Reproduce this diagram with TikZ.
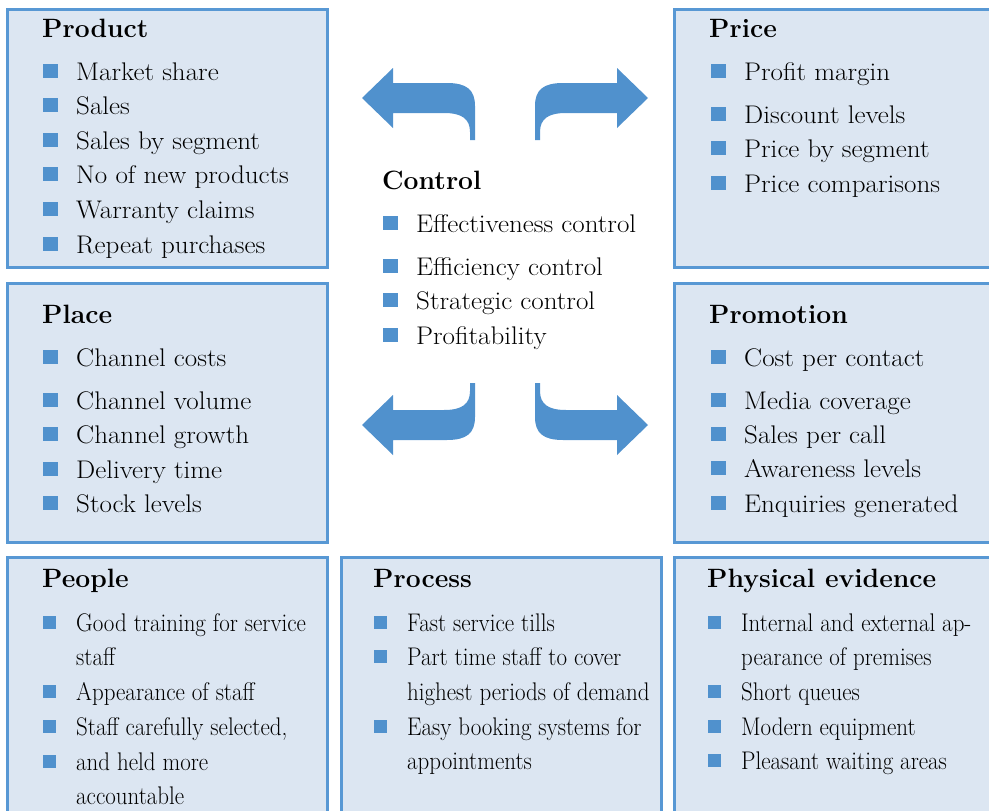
\documentclass[tikz,border=0pt]{standalone}
\usepackage{fontspec}
\usepackage{graphicx}
\definecolor{boxfill}{RGB}{220,230,242}
\definecolor{boxline}{RGB}{88,152,212}
\definecolor{bblue}{RGB}{80,145,205}
\tikzset{
  panel/.style={draw=boxline, line width=3pt, fill=boxfill},
  head/.style={anchor=base west, inner sep=0pt, font=\fontsize{26.5}{30}\selectfont\bfseries},
  txt/.style={anchor=base west, inner sep=0pt, font=\fontsize{25.5}{30}\selectfont},
  bsq/.style={fill=bblue, minimum width=15pt, minimum height=14pt, inner sep=0pt},
  bsqs/.style={fill=bblue, minimum width=13pt, minimum height=13pt, inner sep=0pt},
  barrow/.style={fill=bblue, draw=none},
}
% #1 name, #2 bullet left x, #3 baseline y, #4 text
\newcommand\bitem[4]{\node[bsq] (#1b) at (#2+7.5,#3-9.5) {}; \node[txt] (#1) at (#2+33,#3) {\scalebox{1.06}[1]{#4}};}
\newcommand\citem[4]{\node[bsqs] (#1b) at (#2+6.5,#3-9) {}; \node[txt] (#1) at (#2+33,#3) {\scalebox{0.9}[1]{#4}};}
\newcommand\ccont[4]{\node[txt] (#1) at (#2+33,#3) {\scalebox{0.9}[1]{#4}};}
\newcommand\arrowshape{(0,0) -- (31,-30) -- (31,-15) -- (85,-15) .. controls (105,-15) and (113,-8) .. (113,8) -- (113,42) -- (108,42) -- (108,34) .. controls (108,21) and (100,15) .. (82,15) -- (31,15) -- (31,30) -- cycle}
\begin{document}
\begin{tikzpicture}[x=1pt,y=-1pt]
\useasboundingbox (0,0) rectangle (989,811);
\clip (0,0) rectangle (989,811);
% panels
\path[panel] (7,9.5) rectangle (327,267);
\path[panel] (674.5,9.5) rectangle (1000,267);
\path[panel] (7,283) rectangle (327,542);
\path[panel] (674.5,283) rectangle (1000,542);
\path[panel] (7,557) rectangle (327,830);
\path[panel] (341,557) rectangle (661,830);
\path[panel] (674.5,557) rectangle (1000,830);
% arrows
\begin{scope}[shift={(362,98)}]
  \fill[barrow] \arrowshape;
\end{scope}
\begin{scope}[shift={(648,98)}, xscale=-1]
  \fill[barrow] \arrowshape;
\end{scope}
\begin{scope}[shift={(362,425)}, yscale=-1]
  \fill[barrow] \arrowshape;
\end{scope}
\begin{scope}[shift={(648,425)}, xscale=-1, yscale=-1]
  \fill[barrow] \arrowshape;
\end{scope}
% Product
\node[head] (product) at (42,37) {Product};
\bitem{p1}{43}{80}{Market share}
\bitem{p2}{43}{114}{Sales}
\bitem{p3}{43}{149}{Sales by segment}
\bitem{p4}{43}{183}{No of new products}
\bitem{p5}{43}{218}{Warranty claims}
\bitem{p6}{43}{253}{Repeat purchases}
% Price
\node[head] (price) at (709,37) {Price};
\bitem{r1}{711}{80}{Profit margin}
\bitem{r2}{711}{123}{Discount levels}
\bitem{r3}{711}{157}{Price by segment}
\bitem{r4}{711}{192}{Price comparisons}
% Control
\node[head] (control) at (382,189) {Control};
\bitem{c1}{383}{232}{Effectiveness control}
\bitem{c2}{383}{275}{Efficiency control}
\bitem{c3}{383}{309}{Strategic control}
\bitem{c4}{383}{344}{Profitability}
% Place
\node[head] (place) at (42,323) {Place};
\bitem{l1}{43}{366}{Channel costs}
\bitem{l2}{43}{409}{Channel volume}
\bitem{l3}{43}{443}{Channel growth}
\bitem{l4}{43}{478}{Delivery time}
\bitem{l5}{43}{512}{Stock levels}
% Promotion
\node[head] (promotion) at (709,323) {Promotion};
\bitem{m1}{711}{366}{Cost per contact}
\bitem{m2}{711}{409}{Media coverage}
\bitem{m3}{711}{443}{Sales per call}
\bitem{m4}{711}{477}{Awareness levels}
\bitem{m5}{711}{512}{Enquiries generated}
% People
\node[head] (people) at (42,587) {People};
\citem{e1}{43}{631}{Good training for service}
\ccont{e1b2}{43}{665}{staff}
\citem{e2}{43}{700}{Appearance of staff}
\citem{e3}{43}{735}{Staff carefully selected,}
\citem{e4}{43}{770}{and held more}
\ccont{e4b2}{43}{804}{accountable}
% Process
\node[head] (process) at (373,587) {Process};
\citem{s1}{374}{631}{Fast service tills}
\citem{s2}{374}{665}{Part time staff to cover}
\ccont{s2b2}{374}{700}{highest periods of demand}
\citem{s3}{374}{735}{Easy booking systems for}
\ccont{s3b2}{374}{769}{appointments}
% Physical evidence
\node[head] (physical) at (707,587) {Physical evidence};
\citem{v1}{708}{631}{Internal and external ap-}
\ccont{v1b2}{708}{665}{pearance of premises}
\citem{v2}{708}{700}{Short queues}
\citem{v3}{708}{735}{Modern equipment}
\citem{v4}{708}{769}{Pleasant waiting areas}
\end{tikzpicture}
\end{document}
